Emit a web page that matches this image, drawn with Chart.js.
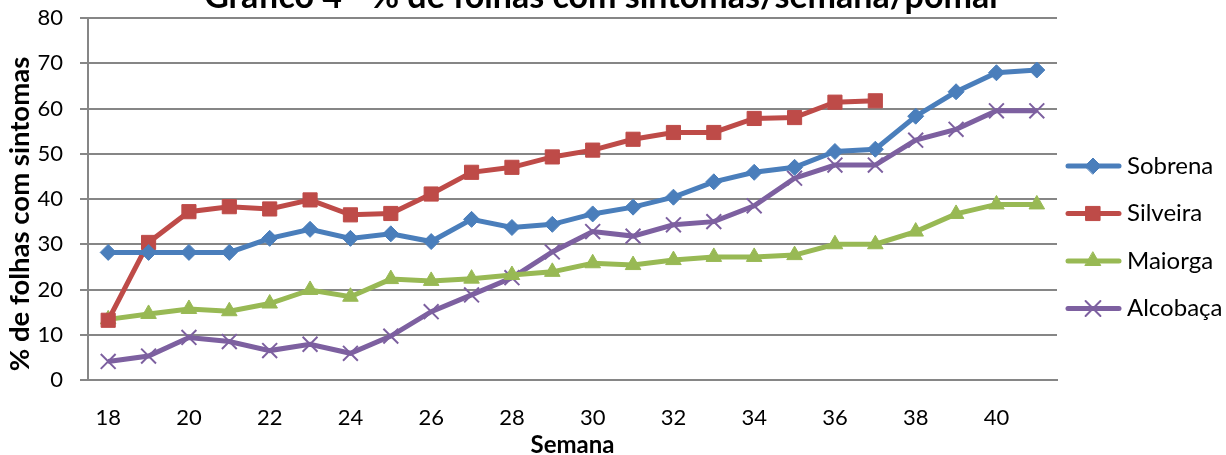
<!DOCTYPE html>
<html>
<head>
<meta charset="utf-8">
<script src="https://cdn.jsdelivr.net/npm/chart.js@4.4.1/dist/chart.umd.min.js"></script>
<style>
  html, body { margin: 0; padding: 0; background: #fff; overflow: hidden; }
  #wrap { width: 1226px; height: 455px; position: relative; }
</style>
</head>
<body>
<div id="wrap"><canvas id="chart" width="1226" height="455"></canvas></div>
<script>
const weeks = ['18','19','20','21','22','23','24','25','26','27','28','29','30','31','32','33','34','35','36','37','38','39','40','41'];
const sobrena = [28.2, 28.2, 28.2, 28.2, 31.3, 33.3, 31.3, 32.3, 30.6, 35.5, 33.7, 34.4, 36.7, 38.2, 40.4, 43.8, 45.9, 47.0, 50.5, 51.0, 58.3, 63.7, 67.9, 68.5];
const silveira = [13.2, 30.4, 37.2, 38.3, 37.8, 39.8, 36.5, 36.8, 41.1, 45.9, 47.0, 49.3, 50.8, 53.2, 54.7, 54.7, 57.8, 58.0, 61.4, 61.7, null, null, null, null];
const maiorga = [13.4, 14.6, 15.7, 15.2, 16.9, 19.9, 18.4, 22.3, 21.9, 22.4, 23.2, 23.9, 25.8, 25.4, 26.5, 27.2, 27.2, 27.6, 30.0, 30.0, 32.8, 36.7, 38.8, 38.8];
const alcobaca = [4.1, 5.3, 9.4, 8.5, 6.5, 7.9, 5.9, 9.7, 15.1, 18.8, 22.6, 28.3, 32.8, 31.8, 34.3, 35.0, 38.5, 44.6, 47.5, 47.5, 53.0, 55.4, 59.5, 59.5];
const yTicks = [0, 10, 20, 30, 40, 50, 60, 70, 80];

const FONT = 'Lato, "Open Sans", sans-serif';

// title sits mostly above the canvas, like the cropped original
// y axis title drawn by hand too, it is a bit off centre in the original
const textPlugin = {
  id: 'extraText',
  afterDraw(chart) {
    let ctx = chart.ctx;
    ctx.save();
    ctx.font = 'bold 34px ' + FONT;
    ctx.fillStyle = '#000';
    ctx.textAlign = 'center';
    ctx.textBaseline = 'alphabetic';
    ctx.fillText('Gráfico 4 - % de folhas com sintomas/semana/pomar', 603, 8);
    ctx.restore();

    ctx.save();
    ctx.translate(20, 214);
    ctx.rotate(-Math.PI / 2);
    ctx.font = 'bold 27.5px ' + FONT;
    ctx.fillStyle = '#000';
    ctx.textAlign = 'center';
    ctx.textBaseline = 'middle';
    ctx.fillText('% de folhas com sintomas', 0, 0);
    ctx.restore();
  },
};

// legend with line + marker like excel
const sideLegend = {
  id: 'sideLegend',
  afterDraw(chart) {
    let ctx = chart.ctx;
    chart.data.datasets.forEach(function (ds, i) {
      let y = 166 + i * 47.5;
      ctx.save();
      ctx.strokeStyle = ds.borderColor;
      ctx.lineWidth = 5;
      ctx.lineCap = 'round';
      ctx.beginPath();
      ctx.moveTo(1068, y);
      ctx.lineTo(1119, y);
      ctx.stroke();
      ctx.fillStyle = ds.pointBackgroundColor;
      ctx.strokeStyle = ds.pointBorderColor;
      ctx.lineWidth = ds.pointBorderWidth;
      Chart.helpers.drawPoint(ctx, { pointStyle: ds.pointStyle, radius: ds.pointRadius, rotation: 0, borderWidth: ds.pointBorderWidth }, 1093, y);
      ctx.fillStyle = '#000';
      ctx.font = '24px ' + FONT;
      ctx.textAlign = 'left';
      ctx.textBaseline = 'middle';
      ctx.fillText(ds.label, 1127, y);
      ctx.restore();
    });
  },
};

function series(label, data, color, style, radius, bw) {
  return {
    label: label,
    data: data,
    borderColor: color,
    backgroundColor: color,
    borderWidth: 5,
    pointStyle: style,
    pointRadius: radius,
    pointHoverRadius: radius,
    pointBackgroundColor: color,
    pointBorderColor: color,
    pointBorderWidth: bw,
    tension: 0,
    spanGaps: false,
  };
}

const config = {
  type: 'line',
  data: {
    labels: weeks,
    datasets: [
      series('Sobrena', sobrena, '#4A7EBB', 'rectRot', 8, 1),
      series('Silveira', silveira, '#BE4B48', 'rect', 10, 1),
      series('Maiorga', maiorga, '#98B954', 'triangle', 9, 1),
      series('Alcobaça', alcobaca, '#7D60A0', 'crossRot', 10.5, 2),
    ],
  },
  options: {
    responsive: false,
    animation: false,
    devicePixelRatio: 1,
    layout: { padding: { top: 18, right: 169, left: 0, bottom: 0 } },
    plugins: {
      legend: { display: false },
      tooltip: { enabled: false },
    },
    scales: {
      x: {
        offset: true,
        grid: { display: false, drawTicks: false },
        border: { display: true, color: '#868686', width: 2 },
        ticks: {
          autoSkip: false,
          maxRotation: 0,
          color: '#000',
          padding: 25,
          font: { family: FONT, size: 22 },
          callback: function (value, index) {
            return index % 2 === 0 ? weeks[index] : '';
          },
        },
        title: {
          display: true,
          text: 'Semana',
          color: '#000',
          padding: { top: 0, bottom: -5 },
          font: { family: FONT, size: 24, weight: 'bold' },
        },
        afterFit(scale) { scale.height = 75; },
      },
      y: {
        min: 0,
        max: 80,
        afterBuildTicks(scale) {
          scale.ticks = yTicks.map(function (v) { return { value: v }; });
        },
        grid: { color: '#868686', lineWidth: 2, tickLength: 8 },
        border: { display: true, color: '#868686', width: 2 },
        ticks: {
          color: '#000',
          padding: 17,
          font: { family: FONT, size: 22 },
        },
        afterFit(scale) {
          scale.width = 88;
          // tick padding would otherwise push the plot down
          scale.paddingTop = 0;
          scale.paddingBottom = 0;
        },
      },
    },
  },
  plugins: [textPlugin, sideLegend],
};

new Chart(document.getElementById('chart'), config);
</script>
</body>
</html>
